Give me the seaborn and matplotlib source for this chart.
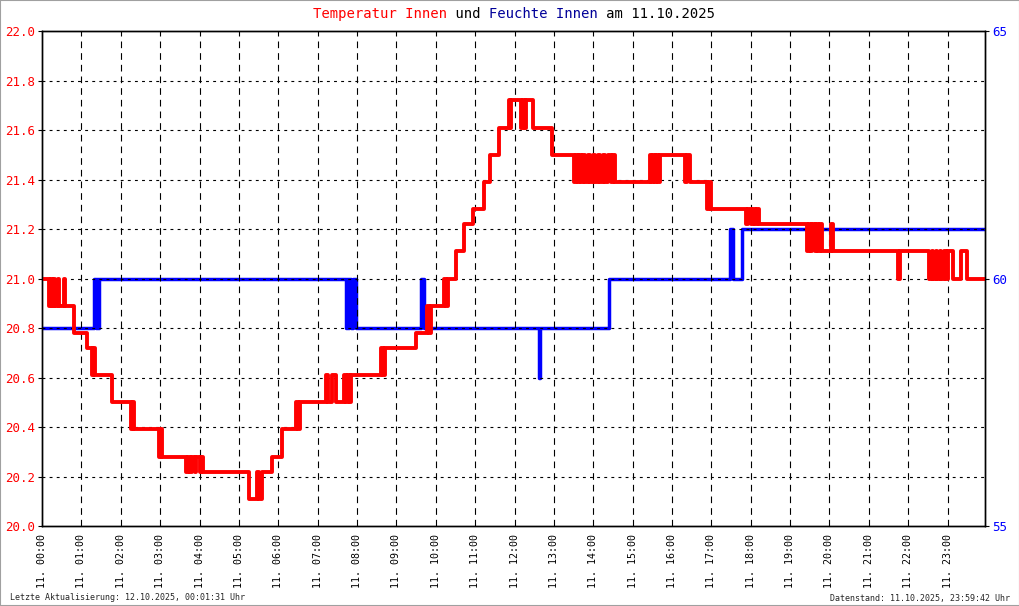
import matplotlib
matplotlib.use("Agg")
import matplotlib.pyplot as plt
from matplotlib.patches import Rectangle
import seaborn as sns
import numpy as np

# ── Data (hour of day, value) ─────────────────────────────────────────────────
temp_hours = [
    0.00, 0.18, 0.22, 0.26, 0.30, 0.34, 0.40, 0.44, 0.55, 0.58,
    0.81, 1.14, 1.27, 1.30, 1.34, 1.78, 2.26, 2.30, 2.34,
    2.97, 3.01, 3.05, 3.66, 3.70, 3.76, 3.80, 3.88, 3.92, 4.00, 4.05, 4.10,
    5.26, 5.46, 5.51, 5.59, 5.85, 6.10, 6.45, 6.50, 6.55,
    7.22, 7.27, 7.37, 7.47, 7.67, 7.72, 7.78, 7.82, 7.85,
    8.62, 8.66, 8.72, 9.50, 9.78, 9.83, 9.88, 10.22, 10.27, 10.30,
    10.52, 10.72, 10.95, 11.23, 11.39, 11.61, 11.85, 11.89, 11.92,
    12.17, 12.22, 12.26, 12.30, 12.48, 12.94,
    13.52, 13.56, 13.60, 13.64, 13.70, 13.75, 13.80, 13.86, 13.92, 14.00,
    14.05, 14.12, 14.18, 14.25, 14.30, 14.38, 14.45, 14.50, 14.56, 14.61,
    15.43, 15.47, 15.52, 15.56, 15.60, 15.65, 15.70,
    16.32, 16.38, 16.45, 16.90, 16.94, 16.98,
    17.89, 17.93, 18.00, 18.05, 18.12, 18.17, 18.22,
    19.44, 19.48, 19.52, 19.56, 19.62, 19.66, 19.72, 19.76, 19.80,
    20.03, 20.08, 21.73, 21.80,
    22.54, 22.60, 22.64, 22.70, 22.74, 22.80, 22.84, 22.90, 22.96, 23.02, 23.13,
    23.35, 23.50, 23.95,
]
temp_values = [
    21.00, 20.89, 21.00, 20.89, 21.00, 20.89, 21.00, 20.89, 21.00, 20.89,
    20.78, 20.72, 20.61, 20.72, 20.61, 20.50, 20.39, 20.50, 20.39,
    20.28, 20.39, 20.28, 20.22, 20.28, 20.22, 20.28, 20.22, 20.28, 20.22, 20.28, 20.22,
    20.11, 20.22, 20.11, 20.22, 20.28, 20.39, 20.50, 20.39, 20.50,
    20.61, 20.50, 20.61, 20.50, 20.61, 20.50, 20.61, 20.50, 20.61,
    20.72, 20.61, 20.72, 20.78, 20.89, 20.78, 20.89, 21.00, 20.89, 21.00,
    21.11, 21.22, 21.28, 21.39, 21.50, 21.61, 21.72, 21.61, 21.72,
    21.61, 21.72, 21.61, 21.72, 21.61, 21.50,
    21.39, 21.50, 21.39, 21.50, 21.39, 21.50, 21.39, 21.50, 21.39, 21.50,
    21.39, 21.50, 21.39, 21.50, 21.39, 21.50, 21.39, 21.50, 21.39, 21.39,
    21.50, 21.39, 21.50, 21.39, 21.50, 21.39, 21.50,
    21.39, 21.50, 21.39, 21.28, 21.39, 21.28,
    21.22, 21.28, 21.22, 21.28, 21.22, 21.28, 21.22,
    21.11, 21.22, 21.11, 21.22, 21.11, 21.22, 21.11, 21.22, 21.11,
    21.22, 21.11, 21.00, 21.11,
    21.00, 21.11, 21.00, 21.11, 21.00, 21.11, 21.00, 21.11, 21.00, 21.11, 21.00,
    21.11, 21.00, 21.00,
]

hum_hours = [
    0.00, 1.33, 1.36, 1.39, 1.42, 1.45,
    7.73, 7.75, 7.78, 7.80, 7.84, 7.90, 7.97,
    9.63, 9.70, 12.62, 12.66, 14.41,
    17.48, 17.54, 17.78, 23.95,
]
hum_values = [
    59, 60, 59, 60, 59, 60,
    59, 60, 59, 60, 59, 60, 59,
    60, 59, 58, 59, 60,
    61, 60, 61, 61,
]

hour_labels = [f"11. {h:02d}:00" for h in range(24)]
temp_ticks = [20.0, 20.2, 20.4, 20.6, 20.8, 21.0, 21.2, 21.4, 21.6, 21.8, 22.0]
hum_ticks = [55, 60, 65]

# ── Style ─────────────────────────────────────────────────────────────────────
sns.set_style("white")
plt.rcParams["font.family"] = ["DejaVu Sans Mono"]

RED = "#ff0000"
BLUE = "#0000ff"

fig = plt.figure(figsize=(10.2, 6.06), dpi=100)
ax = fig.add_axes([0.0412, 0.132, 0.9245, 0.8168])
ax2 = ax.twinx()

# temperature axis on top of humidity axis
ax.set_zorder(ax2.get_zorder() + 1)
ax.patch.set_visible(False)
ax2.patch.set_facecolor("white")

sns.lineplot(x=hum_hours, y=hum_values, ax=ax2, color=BLUE, linewidth=2.5,
             drawstyle="steps-post", estimator=None, sort=False)
sns.lineplot(x=temp_hours, y=temp_values, ax=ax, color=RED, linewidth=2.8,
             drawstyle="steps-post", estimator=None, sort=False)

ax.set_xlim(0, 23.95)
ax.set_ylim(20.0, 22.0)
ax2.set_ylim(55, 65)

ax.set_xticks(range(24))
ax.set_xticklabels(hour_labels, rotation=90, fontsize=7.2, color="black")
ax.set_yticks(temp_ticks)
ax.set_yticklabels([f"{t:.1f}" for t in temp_ticks], fontsize=9, color=RED)
ax2.set_yticks(hum_ticks)
ax2.set_yticklabels([str(h) for h in hum_ticks], fontsize=9, color=BLUE)

# grid: dashed verticals, dotted horizontals
for h in range(1, 24):
    ax.axvline(h, color="black", linewidth=0.8, linestyle=(0, (6, 4.5)), zorder=0.5)
for t in temp_ticks[1:-1]:
    ax.axhline(t, color="black", linewidth=0.8, linestyle=(0, (2.6, 3.8)), zorder=0.5)
ax2.grid(False)
ax.grid(False)

for a in (ax, ax2):
    for s in a.spines.values():
        s.set_color("black")
        s.set_linewidth(1.0)
ax.tick_params(axis="x", length=4, width=0.8, color="black", pad=2, direction="out")
ax.tick_params(axis="y", length=3, width=0.8, color="black", pad=2, direction="out")
ax2.tick_params(axis="y", length=3, width=0.8, color="black", pad=2, direction="out")
ax.set_xlabel("")
ax.set_ylabel("")
ax2.set_ylabel("")

# ── Title (multi-coloured, monospace) ─────────────────────────────────────────
parts = [("Temperatur Innen", RED), (" und ", "black"),
         ("Feuchte Innen", "#000099"), (" am 11.10.2025", "black")]
full = "".join(p for p, _ in parts)
pos = 0
for text, col in parts:
    masked = " " * pos + text + " " * (len(full) - pos - len(text))
    fig.text(313 / 1020, 1 - 14 / 606, masked, color=col, fontsize=10,
             ha="left", va="center")
    pos += len(text)

fig.text(10 / 1020, 1 - 598 / 606, "Letzte Aktualisierung: 12.10.2025, 00:01:31 Uhr",
         fontsize=6, ha="left", va="center")
fig.text(1010 / 1020, 1 - 598 / 606, "Datenstand: 11.10.2025, 23:59:42 Uhr",
         fontsize=6, ha="right", va="center")

fig.add_artist(Rectangle((0, 0), 1, 1, transform=fig.transFigure, fill=False,
                         edgecolor="#a0a0a0", linewidth=1.5))

plt.savefig("out.png", dpi=100)
plt.close()
